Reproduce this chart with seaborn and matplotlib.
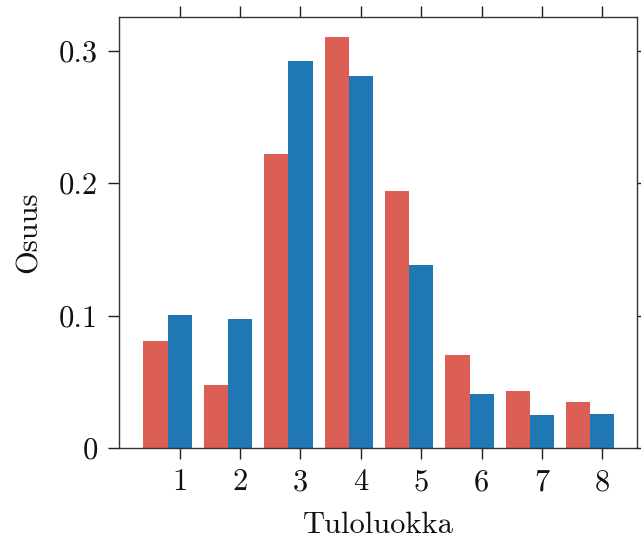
import matplotlib
matplotlib.use("Agg")
import matplotlib.pyplot as plt
import numpy as np
import pandas as pd
import seaborn as sns

# Income class shares for two groups
classes = ["1", "2", "3", "4", "5", "6", "7", "8"]
share_a = [0.081, 0.0475, 0.222, 0.310, 0.194, 0.070, 0.043, 0.035]
share_b = [0.1004, 0.0974, 0.292, 0.281, 0.138, 0.041, 0.025, 0.026]
groups = ["Ryhmä A", "Ryhmä B"]
colors = ["#dc5f56", "#1f77b4"]
y_ticks = [0, 0.1, 0.2, 0.3]
y_tick_labels = ["0", "0.1", "0.2", "0.3"]

df = pd.DataFrame({
    "Tuloluokka": classes * 2,
    "Osuus": share_a + share_b,
    "Ryhmä": [groups[0]] * len(classes) + [groups[1]] * len(classes),
})

sns.set_style("ticks")
plt.rcParams.update({
    "font.family": "serif",
    "font.serif": ["cmr10", "DejaVu Serif"],
    "mathtext.fontset": "cm",
    "axes.unicode_minus": False,
    "axes.formatter.use_mathtext": True,
    "font.size": 22,
    "text.color": "#111111",
    "axes.labelcolor": "#111111",
    "xtick.color": "#111111",
    "ytick.color": "#111111",
})

fig = plt.figure(figsize=(6.41, 5.40), dpi=100)
ax = fig.add_axes([119 / 641, 92 / 540, (637 - 119) / 641, (448 - 17) / 540])

sns.barplot(data=df, x="Tuloluokka", y="Osuus", hue="Ryhmä",
            order=classes, hue_order=groups, palette=colors,
            width=0.8, saturation=1, legend=False, ax=ax,
            linewidth=0, edgecolor="none")

pos = np.arange(len(classes)) + 0.2
ax.set_xticks(pos)
ax.set_xticklabels(classes)
ax.set_yticks(y_ticks)
ax.set_yticklabels(y_tick_labels)
ax.set_xlim(-0.805, 7.773)
ax.set_ylim(0, 0.3253)

for side in ["left", "right", "top", "bottom"]:
    ax.spines[side].set_visible(True)
    ax.spines[side].set_color("#333333")
    ax.spines[side].set_linewidth(1.0)

ax.tick_params(axis="both", which="major", direction="out", length=8,
               width=1.0, color="#222222", labelcolor="#111111",
               labelsize=22, pad=7,
               top=True, right=True, labeltop=False, labelright=False)

ax.set_xlabel("Tuloluokka", fontsize=22, labelpad=11)
ax.set_ylabel("Osuus", fontsize=22, labelpad=12)

fig.savefig("out.png", dpi=100)
